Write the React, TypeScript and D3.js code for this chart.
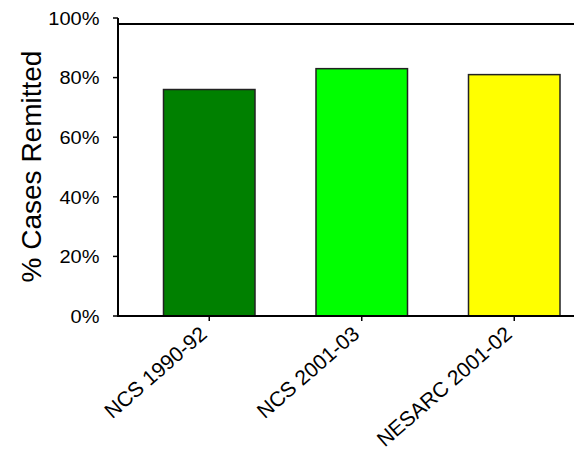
import React from "react";
import * as d3 from "d3";

const categories: string[] = ["NCS 1990-92", "NCS 2001-03", "NESARC 2001-02"];
const remitted: number[] = [0.76, 0.83, 0.81];
const barColors: string[] = ["#008000", "#00FF00", "#FFFF00"];
const yTicks: number[] = [0, 0.2, 0.4, 0.6, 0.8, 1.0];
const yTitle = "% Cases Remitted";

const W = 574;
const H = 450;
const FONT = "'Liberation Sans', Arial, Helvetica, sans-serif";

export default function App() {
  const x = d3
    .scaleBand<string>()
    .domain(categories)
    .range([133, 590.5])
    .paddingInner(0.4)
    .paddingOuter(0.2);
  const y = d3.scaleLinear().domain([0, 1]).range([316, 18]);
  const fmt = d3.format(".0%");
  const axisX = 118;
  const y0 = y(0);

  return (
    <svg
      width={W}
      height={H}
      style={{ position: "absolute", left: 0, top: 0, background: "#fff" }}
      xmlns="http://www.w3.org/2000/svg"
    >
      <rect x={0} y={0} width={W} height={H} fill="#fff" />
      {/* bars */}
      {categories.map((c, i) => (
        <rect
          key={c}
          x={x(c)}
          y={y(remitted[i])}
          width={x.bandwidth()}
          height={y0 - y(remitted[i])}
          fill={barColors[i]}
          stroke="#222"
          strokeWidth={1.5}
        />
      ))}
      {/* top border line */}
      <line x1={axisX} x2={W} y1={24} y2={24} stroke="#000" strokeWidth={2} />
      {/* y axis */}
      <line x1={axisX} x2={axisX} y1={y(1)} y2={y0 + 1} stroke="#000" strokeWidth={2} />
      {yTicks.map((t) => (
        <g key={t}>
          <line x1={axisX - 5} x2={axisX} y1={y(t)} y2={y(t)} stroke="#000" strokeWidth={1.5} />
          <text
            transform={`translate(99.5, ${y(t) + 6.8}) scale(1, 0.89)`}
            textAnchor="end"
            fontFamily={FONT}
            fontSize={20}
            fill="#000"
          >
            {fmt(t)}
          </text>
        </g>
      ))}
      {/* x axis */}
      <line x1={axisX} x2={W} y1={y0} y2={y0} stroke="#000" strokeWidth={2} />
      {categories.map((c) => {
        const cx = (x(c) as number) + x.bandwidth() / 2;
        return (
          <g key={c}>
            <line x1={cx} x2={cx} y1={y0} y2={y0 + 5} stroke="#000" strokeWidth={1.5} />
            <text
              transform={`translate(${cx - 1}, ${y0 + 20}) rotate(-41)`}
              textAnchor="end"
              fontFamily={FONT}
              fontSize={21}
              fill="#000"
            >
              {c}
            </text>
          </g>
        );
      })}
      {/* y title */}
      <text
        transform={`translate(41, 166.5) rotate(-90)`}
        textAnchor="middle"
        fontFamily={FONT}
        fontSize={28}
        fill="#000"
      >
        {yTitle}
      </text>
    </svg>
  );
}
